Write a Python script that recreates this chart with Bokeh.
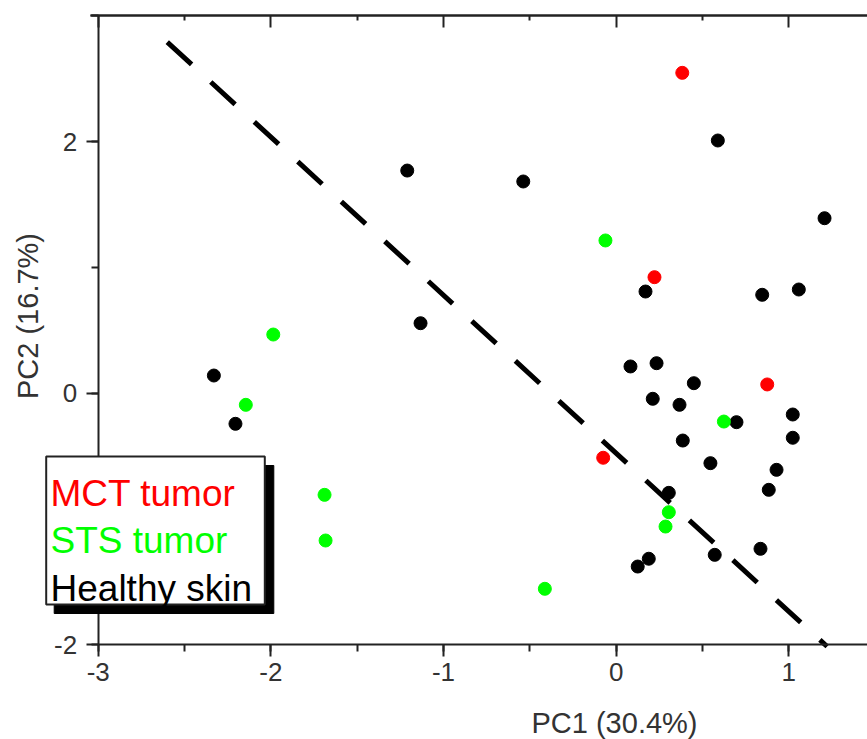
import math
from bokeh.plotting import figure
from bokeh.models import (Range1d, LinearAxis, SingleIntervalTicker, FixedTicker,
                          Label, BoxAnnotation)
from bokeh.embed import file_html
from bokeh.resources import INLINE

# PCA scores per sample group (PC1, PC2)
mct_pc1 = [0.383, 0.222, 0.875, -0.075]
mct_pc2 = [2.546, 0.921, 0.068, -0.515]

sts_pc1 = [-0.062, -1.986, -2.145, -1.689, -1.683, -0.413, 0.305, 0.286, 0.624]
sts_pc2 = [1.213, 0.465, -0.094, -0.810, -1.173, -1.557, -0.948, -1.062, -0.227]

healthy_pc1 = [-1.210, -0.538, 0.589, 1.207, -1.133, 0.170, 0.846, 1.058,
               -2.330, -2.205, 0.083, 0.234, 0.450, 0.212, 0.367, 0.697,
               1.023, 1.023, 0.386, 0.546, 0.929, 0.884, 0.305, 0.836,
               0.571, 0.189, 0.125]
healthy_pc2 = [1.769, 1.682, 2.008, 1.390, 0.555, 0.807, 0.781, 0.823,
               0.139, -0.245, 0.211, 0.237, 0.078, -0.046, -0.094, -0.232,
               -0.171, -0.356, -0.378, -0.558, -0.611, -0.770, -0.794, -1.239,
               -1.287, -1.318, -1.380]

# separating line between tumour and healthy clusters
sep_pc1 = [-2.60, 1.222]
sep_pc2 = [2.79, -2.016]

group_names = ["MCT tumor", "STS tumor", "Healthy skin"]
group_colors = ["#ff0000", "#00ff00", "#000000"]

x_title = "PC1 (30.4%)"
y_title = "PC2 (16.7%)"

# axis extents and tick positions
x_lo, y_lo, y_hi = -3, -2, 3
x_major = [-3, -2, -1, 0, 1]
x_minor = [-2.5, -1.5, -0.5, 0.5]
tick_text = {-3: "-3", -2: "-2", -1: "-1"}

FONT = "Liberation Sans"
W, H = 867, 739
# pixel scale of the plotting area
PX_X0, PX_PER_X = 97.7, 172.65     # canvas x of PC1=-3, pixels per PC1 unit
PX_Y0, PX_PER_Y = 392.5, 125.75    # canvas y of PC2=0, pixels per PC2 unit


def dx(px):
    return x_lo + (px - PX_X0) / PX_PER_X


def dy(py):
    return (PX_Y0 - py) / PX_PER_Y


p = figure(width=W, height=H, output_backend="svg", toolbar_location=None,
           x_range=Range1d(dx(0), dx(W)), y_range=Range1d(dy(H), dy(0)),
           x_axis_location=None, y_axis_location=None,
           min_border_left=0, min_border_right=0, min_border_top=0,
           min_border_bottom=0)
p.title.visible = False
p.outline_line_color = None
p.xgrid.visible = False
p.ygrid.visible = False
p.background_fill_color = "white"
p.border_fill_color = "white"

AX_COLOR = "#222222"


def base_style(ax):
    ax.axis_line_width = 2
    ax.axis_line_color = AX_COLOR
    ax.major_tick_line_width = 2
    ax.minor_tick_line_width = 2
    ax.major_tick_line_color = AX_COLOR
    ax.minor_tick_line_color = AX_COLOR
    ax.major_label_text_font = FONT
    ax.major_label_text_font_size = "26px"
    ax.major_label_text_color = "#333333"
    ax.major_label_standoff = 6
    ax.major_tick_in = 0
    ax.major_tick_out = 12
    ax.minor_tick_in = 0
    ax.minor_tick_out = 7
    ax.major_label_overrides = tick_text


xaxis = LinearAxis(ticker=SingleIntervalTicker(interval=1, num_minor_ticks=2),
                   fixed_location=y_lo, bounds=(x_lo, dx(W)))
base_style(xaxis)
p.add_layout(xaxis, "below")

yaxis = LinearAxis(ticker=SingleIntervalTicker(interval=2, num_minor_ticks=2),
                   fixed_location=x_lo, bounds=(y_lo, y_hi))
base_style(yaxis)
yaxis.major_label_standoff = 9
p.add_layout(yaxis, "left")

# top frame line with inward ticks (no labels)
for ticks, length in [(x_major, 12), (x_minor, 5)]:
    top = LinearAxis(ticker=FixedTicker(ticks=[], minor_ticks=ticks),
                     fixed_location=y_hi, bounds=(dx(90), dx(W)))
    base_style(top)
    top.minor_tick_in = length
    top.minor_tick_out = 0
    p.add_layout(top, "above")

# dashed separating line
p.line(sep_pc1, sep_pc2, line_width=5, line_color="black", line_dash="33 26")

# sample points
for xs, ys, c in [(healthy_pc1, healthy_pc2, group_colors[2]),
                  (sts_pc1, sts_pc2, group_colors[1]),
                  (mct_pc1, mct_pc2, group_colors[0])]:
    p.scatter(xs, ys, size=13, marker="circle", fill_color=c, line_color=c,
              line_width=1)

# axis titles
p.add_layout(Label(x=dx(614), y=dy(722), text=x_title, text_font=FONT,
                   text_font_size="29px", text_color="#333333",
                   text_align="center", text_baseline="middle"))
p.add_layout(Label(x=dx(27), y=dy(315.5), text=y_title, text_font=FONT,
                   text_font_size="29px", text_color="#333333",
                   text_align="center", text_baseline="middle",
                   angle=math.pi / 2))

# legend box with drop shadow
bl, br, bt, bb = 45.7, 264.3, 456, 604
p.add_layout(BoxAnnotation(left=dx(bl + 8), right=dx(br + 9),
                           top=dy(bt + 9), bottom=dy(bb + 9),
                           fill_color="black", fill_alpha=1.0,
                           line_color="black", line_alpha=1.0,
                           level="overlay", editable=False))
p.add_layout(BoxAnnotation(left=dx(bl), right=dx(br), top=dy(bt), bottom=dy(bb),
                           fill_color="white", fill_alpha=1.0,
                           line_color=AX_COLOR, line_alpha=1.0, line_width=2,
                           level="overlay"))
baselines = [493.3, 540.0, 588.3]
for name, color, base in zip(group_names, group_colors, baselines):
    p.add_layout(Label(x=dx(50), y=dy(base), text=name, text_font=FONT,
                       text_font_size="37px", text_color=color,
                       text_baseline="alphabetic", level="overlay"))

open("out.html", "w").write(file_html(p, INLINE))
